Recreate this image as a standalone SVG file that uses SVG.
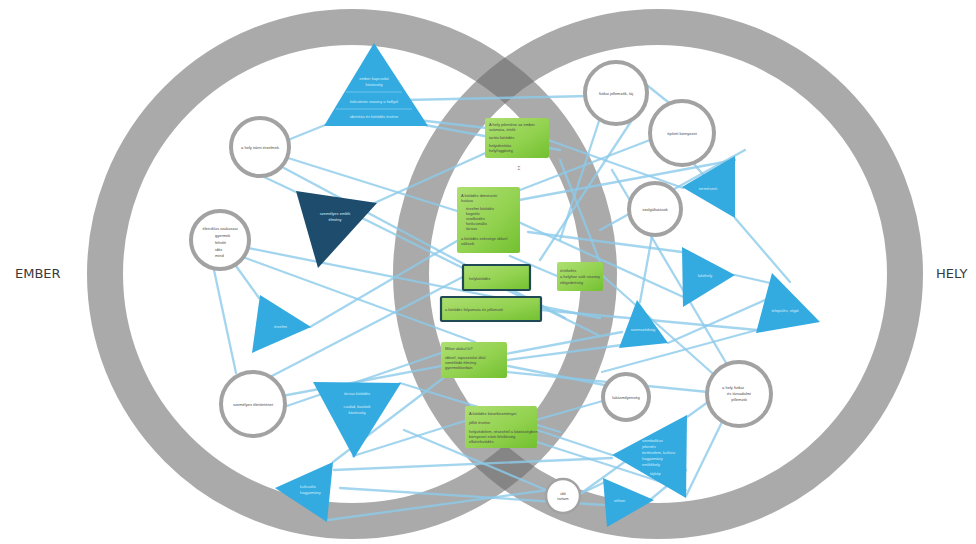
<svg xmlns="http://www.w3.org/2000/svg" width="976" height="544" viewBox="0 0 976 544">
<defs>
<linearGradient id="gr" x1="0" y1="0" x2="1" y2="1">
<stop offset="0" stop-color="#addf72"/><stop offset="0.55" stop-color="#93d250"/><stop offset="1" stop-color="#72c030"/>
</linearGradient>
<style>
.ring{fill:none;stroke:#6a6a6a;stroke-opacity:0.57;stroke-width:36}
.ln line{stroke:#8ccbea;stroke-width:2.3;stroke-opacity:0.8;stroke-linecap:round}
.tri{fill:#33aae0}
.dtri{fill:#1d4c6c}
.cir{fill:#fff;stroke:#a2a2a2;stroke-width:4}
.box{fill:url(#gr)}
.bb{stroke:#1f4a55;stroke-width:2.2}
.t{font-family:"Liberation Sans",Arial,sans-serif;font-size:4px;fill:#4a4a4a}
.tw{font-family:"Liberation Sans",Arial,sans-serif;font-size:4px;fill:#d6effb}
.lab{font-family:"DejaVu Sans","Liberation Sans",sans-serif;font-size:13px;fill:#3a3a3a}
</style>
</defs>
<rect width="976" height="544" fill="#fff"/>
<g id="rings">
<circle class="ring" cx="352" cy="274" r="247"/>
<circle class="ring" cx="658" cy="274" r="247"/>
</g>
<g id="connectors" class="ln">
<line x1="288" y1="140" x2="330" y2="123"/>
<line x1="425" y1="125" x2="560" y2="150"/>
<line x1="405" y1="100" x2="590" y2="96"/>
<line x1="400" y1="118" x2="487" y2="128"/>
<line x1="288" y1="158" x2="470" y2="215"/>
<line x1="284" y1="168" x2="565" y2="318"/>
<line x1="262" y1="176" x2="298" y2="193"/>
<line x1="370" y1="205" x2="548" y2="125"/>
<line x1="362" y1="218" x2="598" y2="335"/>
<line x1="248" y1="248" x2="600" y2="318"/>
<line x1="240" y1="256" x2="475" y2="342"/>
<line x1="214" y1="270" x2="236" y2="373"/>
<line x1="236" y1="266" x2="259" y2="298"/>
<line x1="310" y1="327" x2="462" y2="238"/>
<line x1="268" y1="378" x2="480" y2="268"/>
<line x1="282" y1="396" x2="622" y2="332"/>
<line x1="281" y1="408" x2="444" y2="352"/>
<line x1="400" y1="383" x2="560" y2="432"/>
<line x1="353" y1="456" x2="468" y2="420"/>
<line x1="334" y1="470" x2="612" y2="458"/>
<line x1="333" y1="462" x2="446" y2="376"/>
<line x1="328" y1="520" x2="548" y2="490"/>
<line x1="340" y1="488" x2="604" y2="505"/>
<line x1="548" y1="140" x2="683" y2="188"/>
<line x1="519" y1="200" x2="735" y2="160"/>
<line x1="528" y1="232" x2="682" y2="252"/>
<line x1="542" y1="310" x2="757" y2="330"/>
<line x1="507" y1="360" x2="622" y2="345"/>
<line x1="507" y1="372" x2="708" y2="392"/>
<line x1="537" y1="430" x2="612" y2="455"/>
<line x1="537" y1="442" x2="686" y2="490"/>
<line x1="600" y1="118" x2="560" y2="240"/>
<line x1="632" y1="120" x2="540" y2="260"/>
<line x1="628" y1="70" x2="668" y2="102"/>
<line x1="650" y1="140" x2="520" y2="190"/>
<line x1="694" y1="164" x2="706" y2="178"/>
<line x1="735" y1="218" x2="790" y2="282"/>
<line x1="652" y1="236" x2="640" y2="302"/>
<line x1="735" y1="275" x2="770" y2="283"/>
<line x1="612" y1="170" x2="735" y2="378"/>
<line x1="757" y1="330" x2="602" y2="372"/>
<line x1="722" y1="422" x2="686" y2="496"/>
<line x1="708" y1="402" x2="580" y2="494"/>
<line x1="668" y1="343" x2="765" y2="300"/>
<line x1="650" y1="500" x2="686" y2="470"/>
<line x1="546" y1="490" x2="404" y2="430"/>
<line x1="580" y1="494" x2="605" y2="482"/>
<line x1="640" y1="392" x2="508" y2="366"/>
<line x1="606" y1="400" x2="536" y2="420"/>
<line x1="690" y1="300" x2="470" y2="200"/>
<line x1="557" y1="276" x2="510" y2="256"/>
<line x1="603" y1="276" x2="720" y2="380"/>
<line x1="745" y1="150" x2="600" y2="230"/>
<line x1="560" y1="160" x2="600" y2="262"/>
</g>
<g id="n1"><polygon class="tri" points="374,43 324,126 428,126"/>
<line x1="346" y1="92" x2="402" y2="92" stroke="#7fcdef" stroke-width="0.8"/>
<line x1="336" y1="109" x2="412" y2="109" stroke="#7fcdef" stroke-width="0.8"/>
<text class="tw" x="374" y="80" text-anchor="middle">ember kapcsolat</text>
<text class="tw" x="374" y="86" text-anchor="middle">közösség</text>
<text class="tw" x="374" y="103" text-anchor="middle">kölcsönös viszony a hellyel</text>
<text class="tw" x="374" y="118" text-anchor="middle">identitás és kötődés érzése</text></g>
<g id="n2"><circle class="cir" cx="260" cy="147" r="29"/><text class="t" x="260" y="149" text-anchor="middle">a hely iránti érzelmek</text></g>
<g id="n3"><polygon class="dtri" points="296,191 377,203 318,268"/><text class="tw" x="335" y="215" text-anchor="middle">személyes emlék</text><text class="tw" x="335" y="221" text-anchor="middle">élmény</text></g>
<g id="n4"><circle class="cir" cx="220" cy="240" r="29"/>
<text class="t" x="220" y="230" text-anchor="middle">életciklus szakaszai</text>
<text class="t" x="215" y="237">gyermek</text><text class="t" x="215" y="244">felnőtt</text><text class="t" x="215" y="251">idős</text><text class="t" x="215" y="257">mind</text></g>
<g id="n5"><polygon class="tri" points="260,295 311,327 252,353"/><text class="tw" x="274" y="328">érzelmi</text></g>
<g id="n6"><circle class="cir" cx="253" cy="404" r="32"/><text class="t" x="253" y="406" text-anchor="middle">személyes élettörténet</text></g>
<g id="n7"><polygon class="tri" points="313,382 401,383 354,458"/><text class="tw" x="357" y="395" text-anchor="middle">társas kötődés</text><text class="tw" x="357" y="408" text-anchor="middle">család, barátok</text><text class="tw" x="357" y="414" text-anchor="middle">közösség</text></g>
<g id="n8"><polygon class="tri" points="275,488 333,462 327,522"/><text class="tw" x="300" y="488">kulturális</text><text class="tw" x="300" y="494">hagyomány</text></g>
<g id="n9"><rect class="box" x="485" y="118" width="64" height="40" rx="2"/>
<text class="t" x="489" y="126">A hely jelentése az ember</text><text class="t" x="489" y="131">számára, érték</text><text class="t" x="489" y="139">tartós kötődés</text><text class="t" x="489" y="147">helyidentitás</text><text class="t" x="489" y="152">helyfüggőség</text></g>
<text class="t" x="517" y="170" style="font-size:6px;fill:#222">⌶</text>
<g id="n10"><rect class="box" x="457" y="187" width="63" height="66" rx="2"/>
<text class="t" x="461" y="197">A kötődés dimenziói:</text><text class="t" x="461" y="202">hatása</text>
<text class="t" x="466" y="210">érzelmi kötődés</text><text class="t" x="466" y="215">kognitív</text><text class="t" x="466" y="220">viselkedés</text><text class="t" x="466" y="225">funkcionális</text><text class="t" x="466" y="230">társas</text>
<text class="t" x="461" y="240">a kötődés erőssége idővel</text><text class="t" x="461" y="245">változik</text></g>
<g id="n11"><rect class="box bb" x="463" y="265" width="67" height="25" rx="1"/><text class="t" x="469" y="280">helykötődés</text></g>
<g id="n12"><rect class="box bb" x="441" y="297" width="100" height="24" rx="1"/><text class="t" x="445" y="311">a kötődés folyamata és jellemzői</text></g>
<g id="n13"><rect class="box" x="557" y="262" width="46" height="29" rx="2"/><text class="t" x="560" y="272">értékelés</text><text class="t" x="560" y="278">a helyhez való viszony</text><text class="t" x="560" y="284">elégedettség</text></g>
<g id="n14"><rect class="box" x="441" y="342" width="66" height="36" rx="2"/><text class="t" x="445" y="350">Mikor alakul ki?</text><text class="t" x="445" y="359">idővel, tapasztalat által</text><text class="t" x="445" y="364">ismétlődő élmény</text><text class="t" x="445" y="369">gyermekkorban</text></g>
<g id="n15"><rect class="box" x="465" y="406" width="72" height="42" rx="2"/><text class="t" x="469" y="415">A kötődés következményei</text><text class="t" x="469" y="424">jóllét érzése</text><text class="t" x="469" y="433">helyvédelem, részvétel a közösségben</text><text class="t" x="469" y="438">környezet iránti felelősség</text><text class="t" x="469" y="443">elköteleződés</text></g>
<g id="n16"><circle class="cir" cx="563" cy="496" r="17" style="stroke-width:2.5"/><text class="t" x="563" y="495" text-anchor="middle">idő</text><text class="t" x="563" y="500" text-anchor="middle">tartam</text></g>
<g id="n17"><circle class="cir" cx="616" cy="93" r="31"/><text class="t" x="616" y="95" text-anchor="middle">fizikai jellemzők, táj</text></g>
<g id="n18"><circle class="cir" cx="682" cy="133" r="32"/><text class="t" x="682" y="135" text-anchor="middle">épített környezet</text></g>
<g id="n19"><polygon class="tri" points="682,187 735,156 735,218"/><text class="tw" x="708" y="190" text-anchor="middle">természeti</text></g>
<g id="n20"><circle class="cir" cx="655" cy="209" r="26"/><text class="t" x="655" y="211" text-anchor="middle">szolgáltatások</text></g>
<g id="n21"><polygon class="tri" points="682,247 735,275 683,307"/><text class="tw" x="705" y="277" text-anchor="middle">lakóhely</text></g>
<g id="n22"><polygon class="tri" points="772,273 756,333 820,322"/><text class="tw" x="785" y="312" text-anchor="middle">település, régió</text></g>
<g id="n23"><polygon class="tri" points="637,300 619,348 668,343"/><text class="tw" x="643" y="331" text-anchor="middle">szomszédság</text></g>
<g id="n24"><circle class="cir" cx="626" cy="397" r="23"/><text class="t" x="626" y="399" text-anchor="middle">lakásmilyenség</text></g>
<g id="n25"><circle class="cir" cx="739" cy="394" r="32"/><text class="t" x="733" y="389" text-anchor="middle">a hely fizikai</text><text class="t" x="739" y="395" text-anchor="middle">és társadalmi</text><text class="t" x="739" y="401" text-anchor="middle">jellemzői</text></g>
<g id="n26"><polygon class="tri" points="612,455 687,415 686,498"/><text class="tw" x="642" y="442">szimbolikus</text><text class="tw" x="642" y="448">jelentés</text><text class="tw" x="642" y="454">történelem, kultúra</text><text class="tw" x="642" y="460">hagyomány</text><text class="tw" x="642" y="466">emlékhely</text><text class="tw" x="650" y="475">tájkép</text></g>
<g id="n27"><polygon class="tri" points="603,478 654,500 607,527"/><text class="tw" x="614" y="502">otthon</text></g>
<g id="labels">
<text class="lab" x="15" y="278">EMBER</text>
<text class="lab" x="936" y="278">HELY</text>
</g>
</svg>
